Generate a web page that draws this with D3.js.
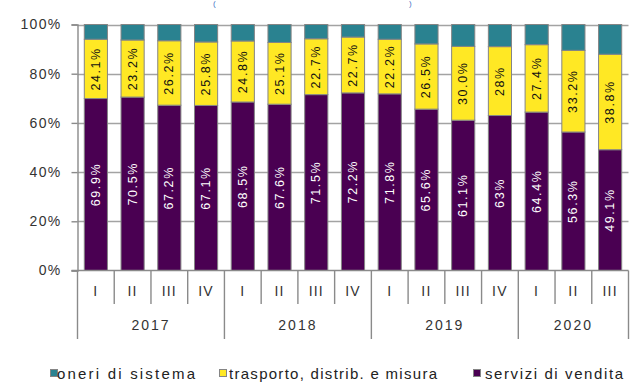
<!DOCTYPE html>
<html><head><meta charset="utf-8">
<script src="https://cdn.jsdelivr.net/npm/d3@7"></script>
<style>
body{margin:0;background:#fff}
svg{display:block;font-family:"Liberation Sans",Arial,sans-serif}
</style>
</head><body>
<svg id="c" width="634" height="383"></svg>
<script>
const years = ["2017","2018","2019","2020"];
const yearCounts = [4,4,4,3];
const quarters = ["I","II","III","IV","I","II","III","IV","I","II","III","IV","I","II","III"];
const serviziVendita = [69.9,70.5,67.2,67.1,68.5,67.6,71.5,72.2,71.8,65.6,61.1,63,64.4,56.3,49.1];
const trasporto = [24.1,23.2,26.2,25.8,24.8,25.1,22.7,22.7,22.2,26.5,30.0,28,27.4,33.2,38.8];
const oneriSistema = [6.0,6.3,6.6,7.1,6.7,7.3,5.8,5.1,6.0,7.9,8.9,9.0,8.2,10.5,12.1];
const serviziLabels = ["69.9%","70.5%","67.2%","67.1%","68.5%","67.6%","71.5%","72.2%","71.8%","65.6%","61.1%","63%","64.4%","56.3%","49.1%"];
const trasportoLabels = ["24.1%","23.2%","26.2%","25.8%","24.8%","25.1%","22.7%","22.7%","22.2%","26.5%","30.0%","28%","27.4%","33.2%","38.8%"];
const yTicks = [0,20,40,60,80,100];
const seriesNames = ["oneri di sistema","trasporto, distrib. e misura","servizi di vendita"];

const colors = {servizi:"#4a0052", trasporto:"#ffe824", oneri:"#2a8290"};

const svg = d3.select("#c");
const x = d3.scaleBand().domain(d3.range(quarters.length)).range([77.5,628.5]).paddingInner(0.37).paddingOuter(0.185);
const y = d3.scaleLinear().domain([0,100]).range([270.5,24.5]);

// title fragments (parentheses at the top edge)
svg.append("text").attr("x",213).attr("y",6).attr("font-size",8).attr("fill","#4472c4").text("(");
svg.append("text").attr("x",409).attr("y",6).attr("font-size",8).attr("fill","#4472c4").text(")");

// gridlines
svg.append("g").selectAll("line").data(yTicks.filter(d=>d>0)).join("line")
  .attr("x1",77.5).attr("x2",628.5).attr("y1",d=>Math.round(y(d))+0.5).attr("y2",d=>Math.round(y(d))+0.5)
  .attr("stroke","#a3a3a3").attr("stroke-width",1.4);

// y axis
const yAxis = d3.axisLeft(y).tickValues(yTicks).tickFormat(d=>d+"%").tickSize(6).tickPadding(10);
const ga = svg.append("g").attr("transform","translate(77.5,0)").call(yAxis);
ga.select(".domain").attr("stroke","#8a8a8a").attr("stroke-width",1.4);
ga.selectAll(".tick line").attr("stroke","#8a8a8a").attr("stroke-width",1.4);
ga.selectAll(".tick text").attr("font-size",14).attr("fill","#333").attr("letter-spacing",1.3).attr("font-family","Liberation Sans, Arial, sans-serif");

// data table
const rows = quarters.map((q,i)=>({i, servizi:serviziVendita[i], trasporto:trasporto[i], oneri:oneriSistema[i]}));
const stack = d3.stack().keys(["servizi","trasporto","oneri"])(rows);

const gBars = svg.append("g");
stack.forEach(layer=>{
  gBars.append("g").selectAll("rect").data(layer).join("rect")
    .attr("x",d=>x(d.data.i)).attr("width",x.bandwidth())
    .attr("y",d=>y(d[1])).attr("height",d=>y(d[0])-y(d[1]))
    .attr("fill",colors[layer.key]).attr("stroke","#858585").attr("stroke-width",1);
});

// labels
const lab = (layer, labels, color)=>{
  svg.append("g").selectAll("text").data(layer).join("text")
    .attr("transform",d=>`translate(${x(d.data.i)+x.bandwidth()/2},${(y(d[0])+y(d[1]))/2}) rotate(-90)`)
    .attr("text-anchor","middle").attr("dominant-baseline","central")
    .attr("font-size",12.5).attr("letter-spacing",1.6).attr("fill",color)
    .text((d,k)=>labels[k]);
};
lab(stack[0], serviziLabels, "#ffffff");
lab(stack[1], trasportoLabels, "#111");

// bottom axis
const gx = svg.append("g");
const bnd = i => i<quarters.length ? x(i)-(x.step()-x.bandwidth())/2 : x(quarters.length-1)+x.bandwidth()+(x.step()-x.bandwidth())/2;
gx.append("line").attr("x1",71.5).attr("x2",628.5).attr("y1",270.5).attr("y2",270.5).attr("stroke","#8a8a8a").attr("stroke-width",1.4);
const yearStarts = [0]; yearCounts.forEach((c,k)=>yearStarts.push(yearStarts[k]+c));
gx.selectAll("line.q").data(d3.range(quarters.length+1)).join("line").attr("class","q")
  .attr("x1",d=>bnd(d)).attr("x2",d=>bnd(d)).attr("y1",270.5)
  .attr("y2",d=>yearStarts.includes(d)?339:304)
  .attr("stroke","#8a8a8a").attr("stroke-width",1.4);
gx.selectAll("text.q").data(quarters).join("text").attr("class","q")
  .attr("x",(d,i)=>x(i)+x.bandwidth()/2).attr("y",291).attr("dominant-baseline","central")
  .attr("text-anchor","middle").attr("font-size",14).attr("letter-spacing",1.2).attr("fill","#333").text(d=>d);
gx.selectAll("text.y").data(years).join("text").attr("class","y")
  .attr("x",(d,k)=>(bnd(yearStarts[k])+bnd(yearStarts[k+1]))/2).attr("y",325).attr("dominant-baseline","central")
  .attr("text-anchor","middle").attr("font-size",14).attr("letter-spacing",2).attr("fill","#333").text(d=>d);

// legend
const legend = [
  {name:seriesNames[0], color:colors.oneri, sx:50.5, tx:57, tw:138},
  {name:seriesNames[1], color:colors.trasporto, sx:219.5, tx:229, tw:208},
  {name:seriesNames[2], color:colors.servizi, sx:473.5, tx:485, tw:138}
];
const gl = svg.append("g");
legend.forEach(l=>{
  gl.append("rect").attr("x",l.sx).attr("y",369.5).attr("width",7).attr("height",7).attr("fill",l.color).attr("stroke","#858585").attr("stroke-width",1);
  gl.append("text").attr("x",l.tx).attr("y",373.5).attr("dominant-baseline","central")
    .attr("font-size",15).attr("fill","#222").attr("textLength",l.tw).attr("lengthAdjust","spacing").text(l.name);
});
</script>
</body></html>
